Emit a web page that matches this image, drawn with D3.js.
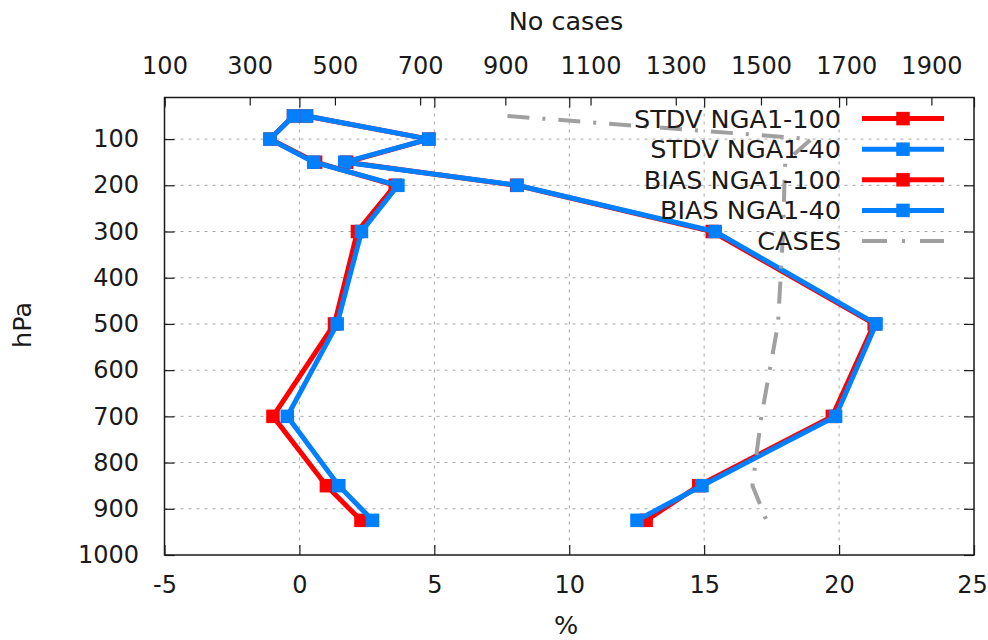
<!DOCTYPE html>
<html>
<head>
<meta charset="utf-8">
<script src="https://cdn.jsdelivr.net/npm/d3@7"></script>
<style>
  html, body { margin: 0; padding: 0; background: #ffffff; }
  svg { display: block; }
  text { font-family: "DejaVu Sans", sans-serif; font-size: 24px; fill: #1a1a1a; }
</style>
</head>
<body>
<svg id="chart" width="988" height="640"></svg>
<script>
// ---- data ----
const pressures = [50, 100, 150, 200, 300, 500, 700, 850, 925];
const stdvNGA100 = [0.25, 4.8, 1.75, 8.05, 15.3, 21.3, 19.75, 14.8, 12.85];
const stdvNGA40  = [0.27, 4.79, 1.68, 8.07, 15.41, 21.37, 19.87, 14.92, 12.51];
const biasNGA100 = [-0.22, -1.09, 0.6, 3.55, 2.15, 1.3, -0.98, 1.0, 2.28];
const biasNGA40  = [-0.22, -1.09, 0.53, 3.65, 2.3, 1.4, -0.45, 1.46, 2.71];
const cases      = [905, 1618, 1557, 1555, 1552, 1540, 1501, 1480, 1513];

const xTicks  = [-5, 0, 5, 10, 15, 20, 25];
const x2Ticks = [100, 300, 500, 700, 900, 1100, 1300, 1500, 1700, 1900];
const yTicks  = [100, 200, 300, 400, 500, 600, 700, 800, 900, 1000];
const legendLabels = ["STDV NGA1-100", "STDV NGA1-40", "BIAS NGA1-100", "BIAS NGA1-40", "CASES"];

// ---- layout ----
const L = 164.5, R = 974, T = 97.5, B = 555;
const RED = "#ff0000", BLUE = "#0080ff", GRAY = "#a0a0a0";
const fmt = d => String(d);

const x  = d3.scaleLinear().domain([-5, 25]).range([L, R]);
const x2 = d3.scaleLinear().domain([100, 2000]).range([L, R]);
const y  = d3.scaleLinear().domain([1000, 10]).range([B, T]);

const svg = d3.select("#chart");

// grid
const grid = svg.append("g").attr("stroke", "#a8a8a8").attr("stroke-width", 1)
  .attr("stroke-dasharray", "3,5").attr("fill", "none");
grid.selectAll("line.v").data(xTicks.filter(d => d > -5 && d < 25)).enter().append("line")
  .attr("x1", d => x(d)).attr("x2", d => x(d)).attr("y1", T).attr("y2", B);
grid.selectAll("line.h").data(yTicks.filter(d => d < 1000)).enter().append("line")
  .attr("x1", L).attr("x2", R).attr("y1", d => y(d)).attr("y2", d => y(d));

// axes
function styleAxis(g) {
  g.select(".domain").remove();
  g.selectAll(".tick line").attr("stroke", "#1a1a1a").attr("stroke-width", 1.2);
  g.selectAll(".tick text").attr("font-family", "DejaVu Sans").attr("font-size", 24).attr("fill", "#1a1a1a");
}
const bottomAxis = svg.append("g").attr("transform", `translate(0,${B})`)
  .call(d3.axisBottom(x).tickValues(xTicks).tickSizeInner(-10).tickSizeOuter(0).tickPadding(21).tickFormat(fmt))
  .call(styleAxis);
// keep the last label inside the picture
bottomAxis.selectAll(".tick text").filter(d => d === 25).attr("dx", -2);
svg.append("g").attr("transform", `translate(0,${T})`)
  .call(d3.axisTop(x).tickValues(xTicks).tickSizeInner(-10).tickSizeOuter(0).tickFormat(""))
  .call(styleAxis);
svg.append("g").attr("transform", `translate(0,${T})`)
  .call(d3.axisTop(x2).tickValues(x2Ticks).tickSizeInner(-8).tickSizeOuter(0).tickPadding(23.5).tickFormat(fmt))
  .call(styleAxis);
svg.append("g").attr("transform", `translate(${L},0)`)
  .call(d3.axisLeft(y).tickValues(yTicks).tickSizeInner(-10).tickSizeOuter(0).tickPadding(25.5).tickFormat(fmt))
  .call(styleAxis);
svg.append("g").attr("transform", `translate(${R},0)`)
  .call(d3.axisRight(y).tickValues(yTicks).tickSizeInner(-10).tickSizeOuter(0).tickFormat(""))
  .call(styleAxis);

// border
svg.append("rect").attr("x", L).attr("y", T).attr("width", R - L).attr("height", B - T)
  .attr("fill", "none").attr("stroke", "#1a1a1a").attr("stroke-width", 1.5);

// axis titles
svg.append("text").attr("x", 566).attr("y", 30).attr("text-anchor", "middle")
  .style("font-size", "25.5px").text("No cases");
svg.append("text").attr("x", 566).attr("y", 634).attr("text-anchor", "middle")
  .style("font-size", "25.5px").text("%");
svg.append("text").attr("transform", "translate(31,325) rotate(-90)").attr("text-anchor", "middle")
  .style("font-size", "25.5px").text("hPa");

// series
const line = d3.line().x(d => x(d[0])).y(d => y(d[1]));
const series = [
  { vals: stdvNGA100, color: RED },
  { vals: stdvNGA40,  color: BLUE },
  { vals: biasNGA100, color: RED },
  { vals: biasNGA40,  color: BLUE }
];
const SQ = 13.5;
series.forEach(s => {
  const pts = s.vals.map((v, i) => [v, pressures[i]]);
  svg.append("path").datum(pts).attr("d", line).attr("fill", "none")
    .attr("stroke", s.color).attr("stroke-width", 5).attr("stroke-linejoin", "miter");
  svg.append("g").selectAll("rect").data(pts).enter().append("rect")
    .attr("x", d => x(d[0]) - SQ / 2).attr("y", d => y(d[1]) - SQ / 2)
    .attr("width", SQ).attr("height", SQ).attr("fill", s.color);
});

// cases (x2 axis)
const casesLine = d3.line().x(d => x2(d[0])).y(d => y(d[1]));
svg.append("path").datum(cases.map((v, i) => [v, pressures[i]])).attr("d", casesLine)
  .attr("fill", "none").attr("stroke", GRAY).attr("stroke-width", 4)
  .attr("stroke-dasharray", "22,13,3,13");

// legend
const legY0 = 118.6, legStep = 30.6;
const legColors = [RED, BLUE, RED, BLUE, GRAY];
const leg = svg.append("g");
legendLabels.forEach((lab, i) => {
  const cy = legY0 + i * legStep;
  leg.append("text").attr("x", 841).attr("y", cy + 9).attr("text-anchor", "end")
    .style("font-size", "25.5px").text(lab);
  const ln = leg.append("line").attr("x1", 862).attr("x2", 944).attr("y1", cy).attr("y2", cy)
    .attr("stroke", legColors[i]).attr("stroke-width", i < 4 ? 5 : 4);
  if (i < 4) {
    leg.append("rect").attr("x", 903 - SQ / 2).attr("y", cy - SQ / 2).attr("width", SQ).attr("height", SQ)
      .attr("fill", legColors[i]);
  } else {
    ln.attr("stroke-dasharray", "25,15,3,15");
  }
});
</script>
</body>
</html>
